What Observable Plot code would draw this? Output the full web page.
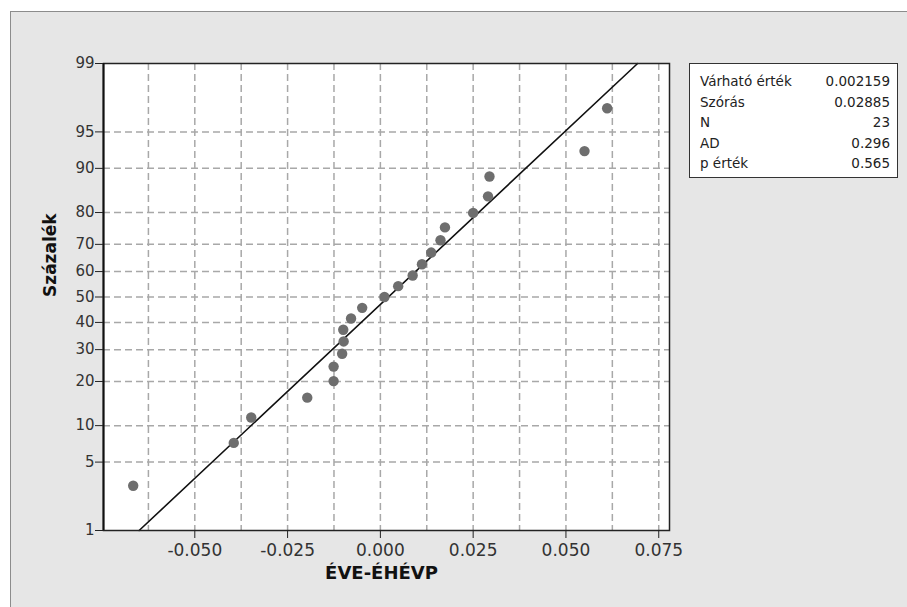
<!DOCTYPE html>
<html><head><meta charset="utf-8">
<script src="https://cdn.jsdelivr.net/npm/d3@7"></script>
<script src="https://cdn.jsdelivr.net/npm/@observablehq/plot@0.6"></script>
<style>
body{margin:0;background:#fff;width:907px;height:607px;overflow:hidden;position:relative;}
#wrap{position:absolute;left:10px;top:11px;width:920px;height:620px;background:#e6e6e6;border:1px solid #8c8c8c;}
#chart{position:absolute;left:0;top:0;}
#legend{position:absolute;left:689px;top:63px;width:190px;height:106px;border:1.5px solid #333;background:#fff;
  font-family:"DejaVu Sans",sans-serif;font-size:13.5px;color:#222;padding:7px 7px 0 10px;box-sizing:content-box;}
#legend .row{display:flex;justify-content:space-between;height:20.5px;line-height:20.5px;}
</style></head>
<body>
<div id="wrap"></div>
<div id="chart"></div>
<div id="legend"></div>
<script>
// data
const pointX = [-0.0666,-0.0395,-0.0348,-0.0197,-0.0126,-0.0126,-0.0103,-0.0099,-0.0100,-0.0079,-0.0049,0.0011,0.0048,0.0087,0.0112,0.0137,0.0162,0.0174,0.0250,0.0290,0.0294,0.0550,0.0611];
const pointPct = [3.0,7.3,11.5,15.8,20.1,24.4,28.6,32.9,37.2,41.5,45.7,50.0,54.3,58.5,62.8,67.1,71.4,75.6,79.9,84.2,88.5,92.7,97.0];
const fitX = [-0.0650, 0.0693];
const fitPct = [1, 99];
const xTicks = [-0.050,-0.025,0.000,0.025,0.050,0.075];
const xGrid = [-0.0625,-0.050,-0.0375,-0.025,-0.0125,0.000,0.0125,0.025,0.0375,0.050,0.0625,0.075];
const yTicks = [1,5,10,20,30,40,50,60,70,80,90,95,99];
const yGrid = [5,10,20,30,40,50,60,70,80,90,95];
const statLabels = ["Várható érték","Szórás","N","AD","p érték"];
const statValues = ["0.002159","0.02885","23","0.296","0.565"];
const xLabel = "ÉVE-ÉHÉVP";
const yLabel = "Százalék";

// inverse normal CDF (probability scale)
function probit(p){
  const a=[-3.969683028665376e+01,2.209460984245205e+02,-2.759285104469687e+02,1.383577518672690e+02,-3.066479806614716e+01,2.506628277459239e+00];
  const b=[-5.447609879822406e+01,1.615858368580409e+02,-1.556989798598866e+02,6.680131188771972e+01,-1.328068155288572e+01];
  const c=[-7.784894002430293e-03,-3.223964580411365e-01,-2.400758277161838e+00,-2.549732539343734e+00,4.374664141464968e+00,2.938163982698783e+00];
  const d=[7.784695709041462e-03,3.224671290700398e-01,2.445134137142996e+00,3.754408661907416e+00];
  const pl=0.02425, ph=1-pl; let q,r;
  if(p<pl){q=Math.sqrt(-2*Math.log(p));return (((((c[0]*q+c[1])*q+c[2])*q+c[3])*q+c[4])*q+c[5])/((((d[0]*q+d[1])*q+d[2])*q+d[3])*q+1);}
  if(p<=ph){q=p-0.5;r=q*q;return (((((a[0]*r+a[1])*r+a[2])*r+a[3])*r+a[4])*r+a[5])*q/(((((b[0]*r+b[1])*r+b[2])*r+b[3])*r+b[4])*r+1);}
  q=Math.sqrt(-2*Math.log(1-p));return -(((((c[0]*q+c[1])*q+c[2])*q+c[3])*q+c[4])*q+c[5])/((((d[0]*q+d[1])*q+d[2])*q+d[3])*q+1);
}
const z = pct => probit(pct/100);

const points = pointX.map((x,i)=>({x, y:z(pointPct[i])}));
const fit = fitX.map((x,i)=>({x, y:z(fitPct[i])}));
const yTickZ = yTicks.map(z);
const yLabelMap = new Map(yTickZ.map((v,i)=>[v, String(yTicks[i])]));
const fmtX = v => d3.format(".3f")(v).replace("\u2212","-");

const chart = Plot.plot({
  width:907, height:607,
  marginLeft:103, marginRight:238, marginTop:63, marginBottom:77,
  style:{background:"transparent", fontFamily:"DejaVu Sans, sans-serif", color:"#222"},
  x:{domain:[-0.0746,0.0779]},
  y:{domain:[z(1),z(99)]},
  marks:[
    Plot.frame({fill:"white", stroke:null}),
    Plot.ruleX(xGrid,{stroke:"#a8a8a8",strokeWidth:1.5,strokeDasharray:"7,4"}),
    Plot.ruleY(yGrid.map(z),{stroke:"#a8a8a8",strokeWidth:1.5,strokeDasharray:"7,4"}),
    Plot.line(fit,{x:"x",y:"y",stroke:"#111",strokeWidth:1.6}),
    Plot.dot(points,{x:"x",y:"y",r:5.2,fill:"#6e6e6e",stroke:null}),
    Plot.frame({stroke:"#222",strokeWidth:1.5}),
    Plot.ruleX([-0.0746],{stroke:"#111",strokeWidth:2}),
    Plot.axisX(xTicks,{tickSize:8,tickPadding:5,fontSize:17,tickFormat:fmtX,label:null,fill:"#333"}),
    Plot.axisY(yTickZ,{tickSize:8,tickPadding:1,fontSize:15,tickFormat:v=>yLabelMap.get(v),label:null,fill:"#333"}),
    Plot.text([xLabel],{frameAnchor:"bottom",dy:48,dx:-5,fontSize:18,fontWeight:"bold",fill:"#111"}),
    Plot.text([yLabel],{frameAnchor:"left",dx:-53,rotate:-90,fontSize:17,fontWeight:"bold",fill:"#111"})
  ]
});
document.getElementById("chart").appendChild(chart);

const leg = document.getElementById("legend");
statLabels.forEach((l,i)=>{
  const row=document.createElement("div"); row.className="row";
  const a=document.createElement("span"); a.textContent=l;
  const b=document.createElement("span"); b.textContent=statValues[i];
  row.appendChild(a); row.appendChild(b); leg.appendChild(row);
});
</script>
</body></html>
